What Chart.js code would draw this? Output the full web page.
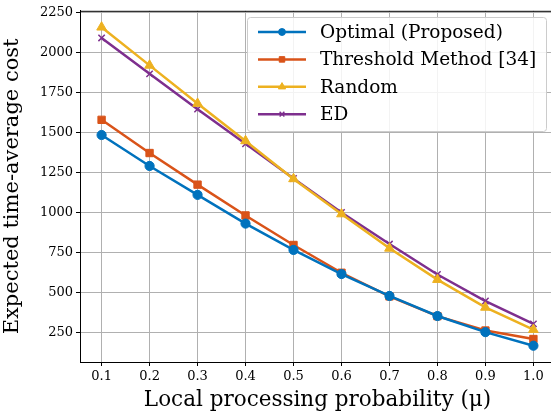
<!DOCTYPE html>
<html>
<head>
<meta charset="utf-8">
<script src="https://cdn.jsdelivr.net/npm/chart.js@4/dist/chart.umd.min.js"></script>
<style>
  html, body { margin: 0; padding: 0; background: #fff; overflow: hidden; }
  #wrap { width: 562px; height: 413px; }
</style>
</head>
<body>
<div id="wrap"><canvas id="cost-chart"></canvas></div>
<script>
const mu = [0.1, 0.2, 0.3, 0.4, 0.5, 0.6, 0.7, 0.8, 0.9, 1.0];
const optimal = [1485, 1291, 1110, 930, 765, 614, 477, 351, 250, 165];
const threshold = [1580, 1372, 1174, 981, 796, 622, 474, 350, 260, 207];
const random = [2160, 1921, 1682, 1448, 1210, 990, 775, 579, 405, 266];
const ed = [2093, 1868, 1647, 1430, 1213, 1000, 802, 611, 445, 302];
const yTicks = [250, 500, 750, 1000, 1250, 1500, 1750, 2000, 2250];
const seriesNames = ['Optimal (Proposed)', 'Threshold Method [34]', 'Random', 'ED'];

const serif = "'DejaVu Serif', serif";

function makeSeries(label, values, color, style, radius) {
    return {
        label: label,
        data: values.map((v, i) => ({ x: mu[i], y: v })),
        borderColor: color,
        backgroundColor: color,
        borderWidth: 2.5,
        pointStyle: style,
        pointRadius: radius,
        pointBorderWidth: style === 'crossRot' ? 1.5 : 1,
        pointBorderColor: color,
        pointBackgroundColor: color,
        tension: 0
    };
}

// top spine + in-plot legend, drawn by hand like matplotlib
const framePlugin = {
    id: 'frame',
    afterDraw(chart) {
        const { ctx, chartArea: a } = chart;
        ctx.save();
        ctx.strokeStyle = '#000';
        ctx.lineWidth = 1;
        ctx.beginPath();
        ctx.moveTo(a.left, a.top + 0.5);
        ctx.lineTo(a.right, a.top + 0.5);
        ctx.stroke();

        // legend box
        const bx = 247, by = 17, bw = 299, bh = 114;
        ctx.fillStyle = 'rgba(255,255,255,0.85)';
        ctx.strokeStyle = '#cccccc';
        ctx.beginPath();
        ctx.roundRect(bx + 0.5, by + 0.5, bw, bh, 3);
        ctx.fill();
        ctx.stroke();

        ctx.font = "18.5px " + serif;
        ctx.textBaseline = 'middle';
        chart.data.datasets.forEach((ds, i) => {
            const y = 32 + i * 27.4;
            ctx.strokeStyle = ds.borderColor;
            ctx.lineWidth = 2.5;
            ctx.beginPath();
            ctx.moveTo(258, y);
            ctx.lineTo(306, y);
            ctx.stroke();
            ctx.fillStyle = ds.borderColor;
            ctx.lineWidth = ds.pointBorderWidth;
            Chart.helpers.drawPoint(ctx, {
                pointStyle: ds.pointStyle,
                radius: ds.pointRadius * 0.75,
                borderWidth: ds.pointBorderWidth
            }, 282, y);
            ctx.fillStyle = '#000';
            ctx.fillText(ds.label, 320, y + 1);
        });
        ctx.restore();
    }
};

new Chart(document.getElementById('cost-chart'), {
    type: 'line',
    data: {
        datasets: [
            makeSeries(seriesNames[0], optimal, '#0072BD', 'circle', 4.6),
            makeSeries(seriesNames[1], threshold, '#D95319', 'rect', 5.2),
            makeSeries(seriesNames[2], random, '#EDB120', 'triangle', 5.6),
            makeSeries(seriesNames[3], ed, '#7E2F8E', 'crossRot', 4.5)
        ]
    },
    options: {
        responsive: true,
        maintainAspectRatio: false,
        animation: false,
        layout: { padding: { top: 7, right: 7, left: 0, bottom: 0 } },
        plugins: {
            legend: { display: false },
            tooltip: { enabled: false }
        },
        scales: {
            x: {
                type: 'linear',
                min: 0.055,
                max: 1.045,
                afterBuildTicks: (scale) => { scale.ticks = mu.map(v => ({ value: v })); },
                afterFit: (scale) => { scale.height = 51; },
                ticks: {
                    color: '#000',
                    font: { family: serif, size: 13 },
                    padding: 3,
                    maxRotation: 0,
                    autoSkip: false,
                    callback: (v) => v.toFixed(1)
                },
                grid: { color: '#b0b0b0', lineWidth: 1, tickColor: '#000', tickLength: 4 },
                border: { color: '#000' },
                title: {
                    display: true,
                    text: 'Local processing probability (\u03bc)',
                    color: '#000',
                    font: { family: serif, size: 21.5 },
                    padding: { top: 1, bottom: 0 }
                }
            },
            y: {
                min: 63,
                max: 2263,
                afterBuildTicks: (scale) => { scale.ticks = yTicks.map(v => ({ value: v })); },
                afterFit: (scale) => { scale.width = 80; },
                ticks: {
                    color: '#000',
                    font: { family: serif, size: 13 },
                    padding: 3,
                    callback: (v) => String(v)
                },
                grid: { color: '#b0b0b0', lineWidth: 1, tickColor: '#000', tickLength: 4 },
                border: { color: '#000' },
                title: {
                    display: true,
                    text: 'Expected time-average cost',
                    color: '#000',
                    font: { family: serif, size: 21 },
                    padding: { top: 0, bottom: 4 }
                }
            }
        }
    },
    plugins: [framePlugin]
});
</script>
</body>
</html>
